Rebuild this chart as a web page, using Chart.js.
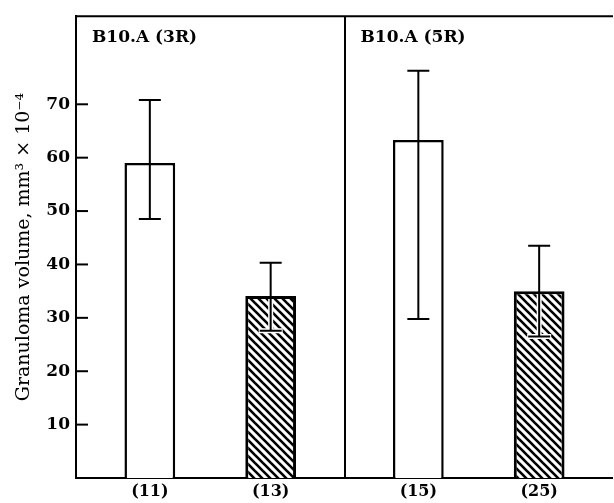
<!DOCTYPE html>
<html><head><meta charset="utf-8">
<script src="https://cdn.jsdelivr.net/npm/chart.js@4/dist/chart.umd.min.js"></script>
<style>html,body{margin:0;padding:0;background:#fff;overflow:hidden;}
#wrap{width:613px;height:503px;position:relative;}</style>
</head><body><div id="wrap"><canvas id="c"></canvas></div>
<script>
const strains = ['B10.A (3R)', 'B10.A (5R)'];
const openMeans = [59.0, 63.3];
const openLow = [48.5, 29.8];
const openHigh = [70.8, 76.3];
const openN = ['(11)', '(15)'];
const hatchMeans = [34.1, 35.0];
const hatchLow = [27.6, 26.5];
const hatchHigh = [40.3, 43.5];
const hatchN = ['(13)', '(25)'];
const yTicks = [10, 20, 30, 40, 50, 60, 70];
const yMax = 86.5;
const yTitle = 'Granuloma volume, mm³ × 10⁻⁴';

const SERIF = '"DejaVu Serif", "Liberation Serif", serif';
Chart.defaults.font.family = SERIF;
Chart.defaults.color = '#000';

function hatch() {
  const s = 8;
  const c = document.createElement('canvas');
  c.width = s; c.height = s;
  const g = c.getContext('2d');
  g.fillStyle = '#fff'; g.fillRect(0, 0, s, s);
  g.strokeStyle = '#000'; g.lineWidth = 2.6;
  for (const k of [-s, 0, s]) {
    g.beginPath(); g.moveTo(k - 1, -1); g.lineTo(k + s + 1, s + 1); g.stroke();
  }
  return g.createPattern(c, 'repeat');
}

const decor = {
  id: 'decor',
  afterDatasetsDraw(chart) {
    const {ctx, chartArea: a, scales: {x, y}} = chart;
    ctx.save();
    ctx.strokeStyle = '#000';
    ctx.lineWidth = 2;
    ctx.beginPath(); ctx.moveTo(a.left - 1, a.top); ctx.lineTo(a.right + 2, a.top); ctx.stroke();
    yTicks.forEach(v => {
      const py = y.getPixelForValue(v);
      ctx.beginPath(); ctx.moveTo(a.left, py); ctx.lineTo(a.left + 12, py); ctx.stroke();
    });
    [[openLow, openHigh], [hatchLow, hatchHigh]].forEach(([lo, hi], di) => {
      chart.getDatasetMeta(di).data.forEach((el, i) => {
        const yl = y.getPixelForValue(lo[i]);
        const yh = y.getPixelForValue(hi[i]);
        const cw = 11;
        if (di === 1 && yl > el.y + 3) {
          ctx.strokeStyle = '#fff'; ctx.lineWidth = 5;
          ctx.beginPath(); ctx.moveTo(el.x, el.y + 3); ctx.lineTo(el.x, yl + 2);
          ctx.moveTo(el.x - cw - 1, yl); ctx.lineTo(el.x + cw + 1, yl); ctx.stroke();
        }
        ctx.strokeStyle = '#000'; ctx.lineWidth = 2;
        ctx.beginPath();
        ctx.moveTo(el.x, yh); ctx.lineTo(el.x, yl);
        ctx.moveTo(el.x - cw, yh); ctx.lineTo(el.x + cw, yh);
        ctx.moveTo(el.x - cw, yl); ctx.lineTo(el.x + cw, yl);
        ctx.stroke();
      });
    });
    ctx.fillStyle = '#000';
    ctx.font = 'bold 17px ' + SERIF;
    ctx.textBaseline = 'middle';
    ctx.textAlign = 'left';
    const half = (a.right - a.left) / strains.length / 2;
    strains.forEach((s, i) => {
      ctx.fillText(s, x.getPixelForValue(i) - half + 16, a.top + 21);
    });
    ctx.textAlign = 'center';
    ctx.font = 'bold 16px ' + SERIF;
    [openN, hatchN].forEach((labels, di) => {
      chart.getDatasetMeta(di).data.forEach((el, i) => {
        ctx.fillText(labels[i], el.x, a.bottom + 14);
      });
    });
    ctx.restore();
  }
};

new Chart(document.getElementById('c'), {
  type: 'bar',
  data: {
    labels: strains,
    datasets: [
      {data: openMeans, backgroundColor: '#fff', borderColor: '#000', borderWidth: 2.5,
       categoryPercentage: 0.9, barPercentage: 0.42},
      {data: hatchMeans, backgroundColor: hatch(), borderColor: '#000', borderWidth: 3,
       categoryPercentage: 0.9, barPercentage: 0.42}
    ]
  },
  options: {
    responsive: true,
    maintainAspectRatio: false,
    animation: false,
    layout: {padding: {top: 13, left: 0, right: 0, bottom: 0}},
    plugins: {legend: {display: false}, tooltip: {enabled: false}},
    scales: {
      x: {
        ticks: {display: false},
        grid: {offset: true, drawTicks: false, lineWidth: 2,
               color: c => c.index === 1 ? '#000' : 'rgba(0,0,0,0)'},
        border: {display: true, color: '#000', width: 2},
        afterFit: s => { s.height = 25; }
      },
      y: {
        min: 0, max: yMax,
        afterBuildTicks: s => { s.ticks = yTicks.map(v => ({value: v})); },
        ticks: {font: {size: 17, weight: 'bold'}, color: '#000', padding: 6},
        grid: {display: false, drawTicks: false},
        border: {display: true, color: '#000', width: 2},
        title: {display: true, text: yTitle, font: {size: 19, weight: 'normal'}, color: '#000',
                padding: {top: 13, bottom: 0}},
        afterFit: s => { s.width = 76; }
      }
    }
  },
  plugins: [decor]
});
</script>
</body></html>
